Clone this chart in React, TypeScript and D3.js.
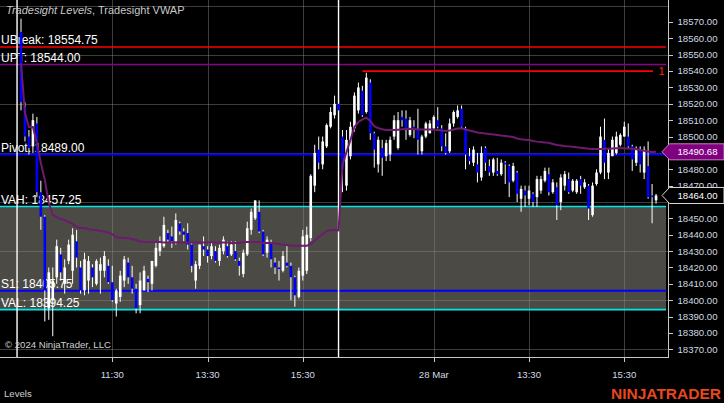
import React from "react";
import * as d3 from "d3";

// ---- data (5-minute bars, day 1: 9:35-16:15, day 2: 9:35-16:10) ----
const opens = [
  18564, 18518, 18500, 18494, 18508, 18466, 18451, 18395, 18400, 18414,
  18428, 18410, 18424, 18418, 18436, 18420, 18406, 18412, 18420, 18410,
  18418, 18418, 18421, 18411, 18398, 18402, 18412, 18423, 18414, 18407,
  18397, 18406, 18413, 18410, 18421, 18430, 18433, 18441, 18439, 18436,
  18447, 18442, 18441, 18434, 18412, 18421, 18433, 18431, 18427, 18430,
  18424, 18430, 18433, 18428, 18430, 18424, 18416, 18428, 18443, 18450,
  18454, 18442, 18429, 18435, 18423, 18420, 18418, 18423, 18421, 18414,
  18402, 18415, 18418, 18438, 18470, 18492, 18483, 18494, 18506, 18513,
  18520, 18500, 18470, 18488, 18505, 18516, 18528, 18515, 18533, 18502,
  18483, 18493, 18488, 18489, 18500, 18493, 18512, 18511, 18501, 18506,
  18504, 18491, 18500, 18502, 18505, 18510, 18505, 18494, 18491, 18508,
  18512, 18517, 18505, 18488, 18484, 18483, 18475, 18493, 18482, 18478,
  18479, 18477, 18484, 18482, 18473, 18478, 18462, 18467, 18462, 18465,
  18463, 18467, 18473, 18477, 18466, 18469, 18460, 18470, 18474, 18467,
  18466, 18474, 18469, 18470, 18452, 18471, 18478, 18498, 18478, 18488,
  18490, 18495, 18500, 18500, 18494, 18484, 18492, 18478, 18482, 18464,
  18461,
];
const highs = [
  18572, 18521, 18504, 18514, 18512, 18473, 18452, 18420, 18420, 18437,
  18432, 18425, 18437, 18444, 18443, 18424, 18429, 18427, 18422, 18425,
  18426, 18430, 18425, 18421, 18407, 18418, 18427, 18426, 18421, 18410,
  18417, 18421, 18415, 18424, 18436, 18439, 18451, 18443, 18445, 18453,
  18448, 18444, 18447, 18435, 18424, 18434, 18439, 18433, 18435, 18433,
  18434, 18439, 18436, 18436, 18436, 18426, 18431, 18448, 18456, 18461,
  18461, 18443, 18439, 18437, 18426, 18424, 18430, 18433, 18423, 18415,
  18420, 18443, 18445, 18477, 18495, 18500, 18500, 18508, 18518, 18525,
  18522, 18504, 18504, 18509, 18527, 18533, 18531, 18539, 18535, 18503,
  18500, 18498, 18498, 18500, 18513, 18515, 18516, 18516, 18512, 18510,
  18517, 18501, 18509, 18510, 18513, 18518, 18507, 18502, 18511, 18516,
  18519, 18519, 18506, 18493, 18494, 18490, 18494, 18494, 18486, 18487,
  18487, 18486, 18485, 18483, 18484, 18479, 18470, 18470, 18470, 18466,
  18476, 18476, 18481, 18481, 18474, 18472, 18477, 18479, 18478, 18474,
  18474, 18476, 18474, 18471, 18472, 18480, 18506, 18511, 18493, 18500,
  18503, 18502, 18509, 18508, 18495, 18494, 18494, 18494, 18497, 18471,
  18465,
];
const lows = [
  18516, 18497, 18489, 18490, 18463, 18443, 18387, 18388, 18378, 18410,
  18412, 18404, 18422, 18410, 18420, 18404, 18403, 18404, 18408, 18409,
  18404, 18414, 18410, 18399, 18390, 18399, 18408, 18410, 18404, 18392,
  18392, 18406, 18405, 18406, 18420, 18427, 18432, 18435, 18432, 18434,
  18440, 18436, 18431, 18417, 18407, 18419, 18427, 18423, 18425, 18423,
  18421, 18428, 18426, 18427, 18424, 18415, 18414, 18427, 18440, 18449,
  18441, 18427, 18426, 18420, 18416, 18412, 18417, 18420, 18400, 18396,
  18401, 18412, 18416, 18436, 18466, 18480, 18480, 18493, 18505, 18511,
  18514, 18466, 18467, 18486, 18503, 18514, 18512, 18514, 18498, 18481,
  18478, 18476, 18485, 18485, 18498, 18492, 18506, 18498, 18500, 18499,
  18489, 18489, 18499, 18502, 18504, 18505, 18491, 18489, 18490, 18506,
  18511, 18505, 18480, 18483, 18482, 18472, 18473, 18479, 18476, 18476,
  18476, 18476, 18471, 18463, 18472, 18460, 18454, 18457, 18458, 18457,
  18457, 18465, 18472, 18464, 18465, 18449, 18455, 18467, 18465, 18466,
  18465, 18465, 18468, 18449, 18451, 18470, 18477, 18474, 18474, 18488,
  18489, 18494, 18500, 18493, 18479, 18482, 18478, 18474, 18462, 18447,
  18459,
];
const closes = [
  18521, 18500, 18493, 18510, 18466, 18451, 18406, 18417, 18412, 18433,
  18417, 18420, 18434, 18440, 18426, 18406, 18425, 18424, 18414, 18424,
  18422, 18427, 18411, 18400, 18406, 18415, 18425, 18414, 18407, 18395,
  18412, 18418, 18411, 18424, 18432, 18436, 18446, 18437, 18436, 18449,
  18442, 18440, 18434, 18421, 18422, 18434, 18431, 18427, 18433, 18424,
  18432, 18437, 18427, 18434, 18425, 18421, 18429, 18444, 18454, 18461,
  18442, 18428, 18437, 18425, 18420, 18419, 18427, 18421, 18414, 18403,
  18418, 18439, 18440, 18476, 18490, 18484, 18497, 18507, 18515, 18520,
  18516, 18480, 18498, 18506, 18525, 18530, 18513, 18536, 18502, 18492,
  18498, 18487, 18496, 18498, 18510, 18510, 18510, 18505, 18510, 18504,
  18498, 18500, 18508, 18508, 18512, 18506, 18494, 18490, 18508, 18515,
  18516, 18506, 18489, 18485, 18492, 18478, 18490, 18484, 18478, 18486,
  18477, 18484, 18483, 18472, 18482, 18465, 18468, 18464, 18467, 18460,
  18474, 18474, 18479, 18466, 18472, 18458, 18475, 18477, 18466, 18473,
  18473, 18470, 18472, 18456, 18470, 18478, 18500, 18484, 18490, 18498,
  18500, 18501, 18506, 18494, 18486, 18492, 18483, 18492, 18463, 18463,
  18464,
];
const vwap = [
  18544.8, 18514.4, 18505.8, 18505.8, 18496.1, 18483.8, 18473.5, 18459.4, 18452.1, 18450.8,
  18449.6, 18449.0, 18447.8, 18446.6, 18444.7, 18444.1, 18444.1, 18443.5, 18442.9, 18442.9,
  18442.3, 18442.0, 18441.4, 18440.2, 18438.4, 18438.2, 18438.0, 18437.8, 18437.4, 18436.8,
  18435.9, 18435.7, 18435.6, 18435.6, 18435.6, 18435.6, 18435.3, 18435.3, 18435.3, 18435.3,
  18435.3, 18435.3, 18435.3, 18435.3, 18435.3, 18435.3, 18435.3, 18435.3, 18435.5, 18435.3,
  18435.3, 18435.3, 18435.3, 18434.9, 18434.9, 18434.9, 18435.5, 18435.5, 18435.5, 18435.6,
  18435.6, 18435.0, 18435.0, 18435.0, 18434.8, 18434.4, 18434.0, 18433.7, 18433.3, 18433.3,
  18433.3, 18433.3, 18433.3, 18434.2, 18436.5, 18438.6, 18440.5, 18442.3, 18442.9, 18442.9,
  18442.6, 18482.6, 18490.6, 18497.9, 18505.8, 18508.9, 18510.4, 18511.6, 18509.5, 18506.4,
  18505.2, 18504.4, 18504.0, 18504.0, 18504.0, 18504.2, 18504.4, 18504.6, 18504.8, 18504.4,
  18504.4, 18504.3, 18504.3, 18504.3, 18504.3, 18504.0, 18503.7, 18503.4, 18503.7, 18504.3,
  18504.9, 18505.0, 18504.3, 18503.7, 18503.1, 18502.5, 18502.2, 18501.9, 18501.6, 18501.3,
  18501.0, 18500.6, 18500.3, 18500.0, 18499.7, 18498.8, 18498.3, 18498.1, 18497.9, 18497.3,
  18496.9, 18496.7, 18496.4, 18496.2, 18495.5, 18494.8, 18494.5, 18494.2, 18494.0, 18493.8,
  18493.4, 18493.1, 18492.8, 18492.5, 18492.4, 18492.4, 18492.4, 18492.5, 18492.6, 18492.7,
  18492.8, 18492.8, 18492.8, 18492.7, 18492.5, 18492.2, 18491.8, 18491.3, 18490.9, 18490.6,
  18490.68,
];

const levelNames = ["UBreak", "UPT", "Pivot", "VAH", "S1", "VAL"];
const levelValues = [18554.75, 18544.0, 18489.0, 18457.25, 18405.75, 18394.25];
const levelColors = ["#ff0000", "#8b008b", "#0000ff", "#00e8e8", "#0000ff", "#00e8e8"];

const tickBars = [23, 47, 71, 104, 128, 152];
const tickLabels = ["11:30", "13:30", "15:30", "28 Mar", "13:30", "15:30"];
const sessionBreakBars = [-1, 80];

const targetHigh = 18540;
const targetStartBar = 86;
const targetLabel = "1";

const lastPrice = 18464.0;
const lastVwap = 18490.68;

// ---- layout ----
const W = 724;
const H = 403;
const plotRight = 668;
const plotBottom = 357;
const FONT = "Arial, 'Liberation Sans', sans-serif";

export default function App() {
  const x = d3.scaleLinear().domain([23, 152]).range([112.3, 624.3]);
  const y = d3.scaleLinear().domain([18370, 18570]).range([349.3, 22]);

  // axis labels hidden behind the price markers are not drawn
  const priceTicks = d3
    .range(18370, 18571, 10)
    .filter((p) => Math.abs(y(p) - y(lastVwap)) > 8 && Math.abs(y(p) - y(lastPrice)) > 8);
  const tickMarks = d3.range(18370, 18571, 10);
  const gridPrices = d3.range(18370, 18590, 30);

  const vwapLine = d3
    .line<number>()
    .x((_, i) => x(i))
    .y((d) => y(d));

  const bodyW = 2.6;
  const fmt = d3.format(".2f");

  const marker = (price: number, fill: string, stroke: string) => {
    const yc = y(price);
    const p = d3.path();
    p.moveTo(662, yc);
    p.lineTo(669.5, yc - 8);
    p.lineTo(724, yc - 8);
    p.lineTo(724, yc + 8);
    p.lineTo(669.5, yc + 8);
    p.closePath();
    return (
      <g>
        <path d={p.toString()} fill={fill} stroke={stroke} strokeWidth={1} />
        <text x={677.5} y={yc + 3.4} fill="#ffffff" fontSize={9.6} fontFamily={FONT}>
          {fmt(price)}
        </text>
      </g>
    );
  };

  return (
    <svg
      width={W}
      height={H}
      style={{ position: "absolute", left: 0, top: 0, background: "#000" }}
    >
      <rect x={0} y={0} width={W} height={H} fill="#000" />
      <defs>
        <clipPath id="plot">
          <rect x={0} y={0} width={plotRight} height={plotBottom} />
        </clipPath>
      </defs>

      {/* value area */}
      <rect
        x={0}
        y={y(levelValues[3])}
        width={666}
        height={y(levelValues[5]) - y(levelValues[3])}
        fill="#4b4a44"
      />

      {/* grid */}
      <g stroke="rgba(135,135,135,0.45)" strokeWidth={1}>
        {gridPrices.map((p) => (
          <line key={p} x1={0} x2={plotRight} y1={Math.round(y(p)) + 0.5} y2={Math.round(y(p)) + 0.5} />
        ))}
        {tickBars.map((b) => (
          <line key={b} x1={Math.round(x(b)) + 0.5} x2={Math.round(x(b)) + 0.5} y1={0} y2={plotBottom} />
        ))}
      </g>

      {/* levels */}
      {levelValues.map((v, i) => (
        <line
          key={levelNames[i]}
          x1={0}
          x2={666}
          y1={y(v)}
          y2={y(v)}
          stroke={levelColors[i]}
          strokeWidth={i === 2 || i === 4 ? 2 : 1.6}
        />
      ))}
      <line
        x1={x(targetStartBar)}
        x2={653}
        y1={y(targetHigh)}
        y2={y(targetHigh)}
        stroke="#ff0000"
        strokeWidth={1.6}
      />
      <text x={658.5} y={y(targetHigh) + 4} fill="#ff2a00" fontSize={11} fontFamily={FONT}>
        {targetLabel}
      </text>

      {/* level labels */}
      {levelValues.map((v, i) => (
        <text
          key={"t" + levelNames[i]}
          x={1}
          y={y(v) - 2.6}
          fill="#ffffff"
          fontSize={12}
          fontFamily={FONT}
        >
          {`${levelNames[i]}: ${fmt(v)}`}
        </text>
      ))}

      {/* session breaks */}
      {sessionBreakBars.map((b) => (
        <line key={b} x1={x(b)} x2={x(b)} y1={0} y2={plotBottom} stroke="#ffffff" strokeWidth={1.4} />
      ))}

      {/* candles */}
      <g clipPath="url(#plot)">
        {opens.map((o, i) => {
          const c = closes[i];
          const up = c >= o;
          const top = y(Math.max(o, c));
          const bot = y(Math.min(o, c));
          return (
            <g key={i}>
              <line x1={x(i)} x2={x(i)} y1={y(highs[i])} y2={y(lows[i])} stroke="#ffffff" strokeWidth={1} />
              <rect
                x={x(i) - bodyW / 2}
                y={top}
                width={bodyW}
                height={Math.max(1, bot - top)}
                fill={up ? "#ffffff" : "#0000ff"}
              />
            </g>
          );
        })}
        <path d={vwapLine(vwap) || ""} fill="none" stroke="#6e1a6e" strokeWidth={2} />
      </g>

      {/* title */}
      <text x={6} y={14} fill="#c8c8c8" fontSize={11} fontFamily={FONT}>
        <tspan fontStyle="italic">Tradesight Levels</tspan>
        <tspan>, Tradesight VWAP</tspan>
      </text>

      <text x={5} y={348} fill="#d0d0d0" fontSize={9.6} fontFamily={FONT}>
        © 2024 NinjaTrader, LLC
      </text>

      {/* right axis */}
      <line x1={plotRight + 0.5} x2={plotRight + 0.5} y1={0} y2={plotBottom} stroke="#c8c8c8" strokeWidth={1} />
      {tickMarks.map((p) => (
        <line key={"m" + p} x1={plotRight} x2={673} y1={Math.round(y(p)) + 0.5} y2={Math.round(y(p)) + 0.5} stroke="#c8c8c8" />
      ))}
      {priceTicks.map((p) => (
        <text key={p} x={677.5} y={y(p) + 3.4} fill="#d2dae2" fontSize={9.6} fontFamily={FONT}>
          {fmt(p)}
        </text>
      ))}
      {marker(lastVwap, "#800080", "#c080c0")}
      {marker(lastPrice, "#000000", "#d8d8d8")}

      {/* bottom axis */}
      <line x1={0} x2={plotRight + 1} y1={plotBottom + 0.5} y2={plotBottom + 0.5} stroke="#c8c8c8" />
      {tickBars.map((b, i) => (
        <g key={"x" + b}>
          <line x1={Math.round(x(b)) + 0.5} x2={Math.round(x(b)) + 0.5} y1={plotBottom} y2={362} stroke="#c8c8c8" />
          <text x={x(b)} y={377.7} textAnchor="middle" fill="#d2dae2" fontSize={9.6} fontFamily={FONT}>
            {tickLabels[i]}
          </text>
        </g>
      ))}

      <text x={4} y={396.5} fill="#cfcfcf" fontSize={9.6} fontFamily={FONT}>
        Levels
      </text>
      <text
        x={611}
        y={398.5}
        fill="#e8461e"
        fontSize={15}
        fontWeight="bold"
        fontFamily={FONT}
        textLength={110}
        lengthAdjust="spacingAndGlyphs"
      >
        NINJATRADER
      </text>
    </svg>
  );
}
